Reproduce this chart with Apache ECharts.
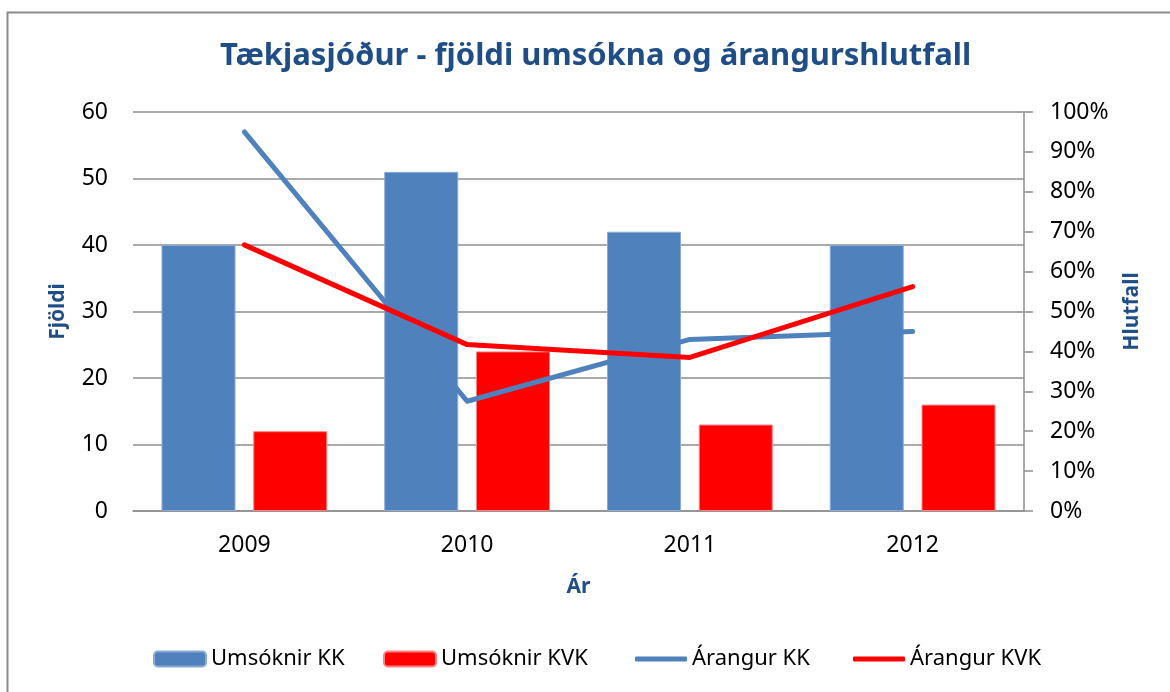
<!DOCTYPE html>
<html>
<head>
<meta charset="utf-8">
<script src="https://cdn.jsdelivr.net/npm/echarts@6/dist/echarts.min.js"></script>
<style>
    html, body { margin: 0; padding: 0; background: #fff; }
    #chart { width: 1170px; height: 692px; }
</style>
</head>
<body>
<div id="chart"></div>
<script>
// gögn
var years = ['2009', '2010', '2011', '2012'];
var umsoknirKK = [40, 51, 42, 40];
var umsoknirKVK = [12, 24, 13, 16];
var arangurKK = [0.95, 0.275, 0.43, 0.45];
var arangurKVK = [0.667, 0.417, 0.385, 0.5625];

var FONT = '"Noto Sans", sans-serif';
var BLUE_T = '#1F4E86';
var GRID = '#8E8E8E';

var chart = echarts.init(document.getElementById('chart'));

//legend, one per item so each sits where the original has it
function legendItem(name, left, isLine) {
    return {
        data: [isLine ? { name: name, icon: 'roundRect' } : name],
        left: left,
        top: 648,
        padding: 0,
        itemWidth: 52,
        itemHeight: isLine ? 5 : 15,
        textStyle: { fontFamily: FONT, fontSize: 22, color: '#000' }
    };
}

var option = {
    animation: false,
    backgroundColor: '#fff',
    title: {
        text: 'Tækjasjóður - fjöldi umsókna og árangurshlutfall',
        left: 220,
        top: 41,
        padding: 0,
        textStyle: {
            fontFamily: FONT,
            fontWeight: 'bold',
            fontSize: 31,
            color: BLUE_T
        }
    },
    graphic: [{
        type: 'rect',
        shape: { x: 7.5, y: 12.5, width: 1200, height: 700 },
        style: { fill: 'none', stroke: '#8A8A8A', lineWidth: 2 },
        silent: true
    }],
    legend: [
        legendItem('Umsóknir KK', 153, false),
        legendItem('Umsóknir KVK', 383, false),
        legendItem('Árangur KK', 635, true),
        legendItem('Árangur KVK', 853, true)
    ],
    grid: { left: 133, right: 146, top: 112, bottom: 181 },
    xAxis: {
        type: 'category',
        data: years,
        name: 'Ár',
        nameLocation: 'middle',
        nameGap: 66,
        nameTextStyle: { fontFamily: FONT, fontWeight: 'bold', fontSize: 21, color: BLUE_T },
        axisLine: { lineStyle: { color: GRID, width: 1.5 } },
        axisTick: { show: false },
        axisLabel: { margin: 23, fontFamily: FONT, fontSize: 23, color: '#000' }
    },
    yAxis: [{
        type: 'value',
        min: 0,
        max: 60,
        interval: 10,
        name: 'Fjöldi',
        nameLocation: 'middle',
        nameGap: 64,
        nameTextStyle: { fontFamily: FONT, fontWeight: 'bold', fontSize: 21, color: BLUE_T },
        axisLine: { show: false },
        axisTick: { show: false },
        axisLabel: { margin: 25, fontFamily: FONT, fontSize: 23, color: '#000' },
        splitLine: { lineStyle: { color: GRID, width: 1.5 } }
    }, {
        type: 'value',
        min: 0,
        max: 1,
        interval: 0.1,
        position: 'right',
        name: 'Hlutfall',
        nameLocation: 'middle',
        nameGap: 98,
        nameTextStyle: { fontFamily: FONT, fontWeight: 'bold', fontSize: 21, color: BLUE_T },
        axisLine: { show: true, lineStyle: { color: GRID, width: 1.5 } },
        axisTick: { show: true, length: 9, lineStyle: { color: GRID, width: 1.5 } },
        axisLabel: {
            margin: 26,
            fontFamily: FONT,
            fontSize: 23,
            color: '#000',
            formatter: function (v) { return Math.round(v * 100) + '%'; }
        },
        splitLine: { show: false }
    }],
    series: [{
        name: 'Umsóknir KK',
        type: 'bar',
        data: umsoknirKK,
        barWidth: 74,
        barGap: '24%',
        itemStyle: { color: '#4F81BD', borderColor: '#8AAAD6', borderWidth: 1 }
    }, {
        name: 'Umsóknir KVK',
        type: 'bar',
        data: umsoknirKVK,
        barWidth: 74,
        barGap: '24%',
        itemStyle: { color: '#FF0000', borderColor: '#FF8080', borderWidth: 1 }
    }, {
        name: 'Árangur KK',
        type: 'line',
        yAxisIndex: 1,
        data: arangurKK,
        symbol: 'none',
        z: 3,
        lineStyle: { color: '#4F81BD', width: 5, cap: 'round', join: 'round' },
        itemStyle: { color: '#4F81BD' }
    }, {
        name: 'Árangur KVK',
        type: 'line',
        yAxisIndex: 1,
        data: arangurKVK,
        symbol: 'none',
        z: 4,
        lineStyle: { color: '#FF0000', width: 5, cap: 'round', join: 'round' },
        itemStyle: { color: '#FF0000' }
    }]
};

chart.setOption(option);
</script>
</body>
</html>
